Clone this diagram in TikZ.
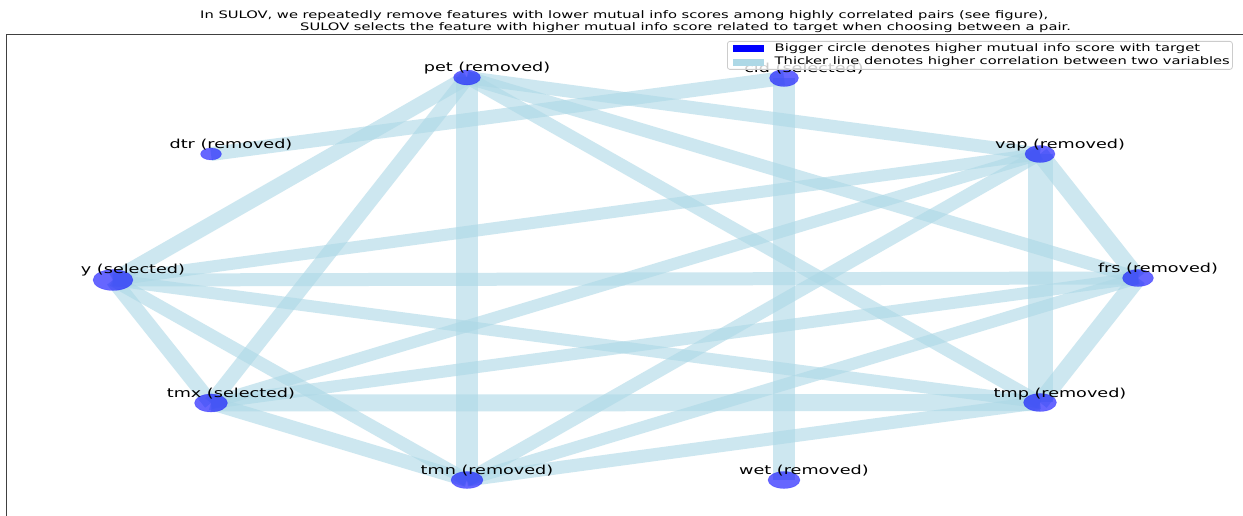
\documentclass[tikz,border=0pt]{standalone}
\usepackage{fontspec}
\newfontfamily\plotfont[FakeStretch=1.42]{DejaVu Sans}
\usetikzlibrary{shapes.geometric}
\definecolor{edgeblue}{RGB}{173,216,230}
\definecolor{nodeblue}{RGB}{0,0,255}
\definecolor{legendgray}{RGB}{204,204,204}
\pgfdeclarelayer{edgelayer}
\pgfsetlayers{edgelayer,main}
\begin{document}
\begin{tikzpicture}[x=1bp,y=-1bp,
  edge/.style={draw=edgeblue, draw opacity=0.6, line width=#1, line cap=butt},
  feat/.style={ellipse, fill=nodeblue, fill opacity=0.6, draw=nodeblue, draw opacity=0.25, line width=0.6bp, inner sep=0pt},
  lbl/.style={anchor=base, inner sep=0pt, font=\plotfont\fontsize{12.4bp}{14bp}\selectfont, text=black},
  ttl/.style={anchor=base west, inner sep=0pt, font=\plotfont\fontsize{10.35bp}{12bp}\selectfont, text=black},
  legtxt/.style={anchor=base west, inner sep=0pt, font=\plotfont\fontsize{10.35bp}{12bp}\selectfont, text=black}]
\path[use as bounding box] (0,0) rectangle (1243,516);

% feature nodes
\node[feat, minimum width=27bp, minimum height=15bp] (pet) at (467,77.5) {};
\node[feat, minimum width=29bp, minimum height=17bp] (cld) at (784,78) {};
\node[feat, minimum width=21bp, minimum height=12bp] (dtr) at (211,154) {};
\node[feat, minimum width=30bp, minimum height=17bp] (vap) at (1040,154) {};
\node[feat, minimum width=40bp, minimum height=21bp] (y) at (113,280) {};
\node[feat, minimum width=31bp, minimum height=17bp] (frs) at (1138,278) {};
\node[feat, minimum width=33bp, minimum height=18bp] (tmx) at (211,403) {};
\node[feat, minimum width=33bp, minimum height=18bp] (tmp) at (1040,402.5) {};
\node[feat, minimum width=32bp, minimum height=17bp] (tmn) at (467,480) {};
\node[feat, minimum width=32bp, minimum height=17bp] (wet) at (784,480) {};

% edges
\begin{pgfonlayer}{edgelayer}
\fill[white] (0,0) rectangle (1243,516);
\draw[edge=14bp] (dtr.center) -- (cld.center);
\draw[edge=22bp] (cld.center) -- (wet.center);
\draw[edge=15bp] (pet.center) -- (y.center);
\draw[edge=15bp] (pet.center) -- (tmx.center);
\draw[edge=22bp] (pet.center) -- (tmn.center);
\draw[edge=13bp] (pet.center) -- (vap.center);
\draw[edge=13bp] (pet.center) -- (frs.center);
\draw[edge=13bp] (pet.center) -- (tmp.center);
\draw[edge=15bp] (y.center) -- (tmx.center);
\draw[edge=13bp] (y.center) -- (tmn.center);
\draw[edge=12bp] (y.center) -- (vap.center);
\draw[edge=13bp] (y.center) -- (frs.center);
\draw[edge=12bp] (y.center) -- (tmp.center);
\draw[edge=14bp] (tmx.center) -- (tmn.center);
\draw[edge=12bp] (tmx.center) -- (vap.center);
\draw[edge=12bp] (tmx.center) -- (frs.center);
\draw[edge=17bp] (tmx.center) -- (tmp.center);
\draw[edge=13bp] (tmn.center) -- (vap.center);
\draw[edge=12bp] (tmn.center) -- (frs.center);
\draw[edge=13bp] (tmn.center) -- (tmp.center);
\draw[edge=17bp] (vap.center) -- (frs.center);
\draw[edge=25bp] (vap.center) -- (tmp.center);
\draw[edge=17bp] (frs.center) -- (tmp.center);
\end{pgfonlayer}

% labels
\node[lbl] (lpet) at (487,72) {pet (removed)};
\node[lbl] (lcld) at (804,72.5) {cld (selected)};
\node[lbl] (ldtr) at (231,148.5) {dtr (removed)};
\node[lbl] (lvap) at (1060,148.5) {vap (removed)};
\node[lbl] (ly) at (133,273.5) {y (selected)};
\node[lbl] (lfrs) at (1158,272.5) {frs (removed)};
\node[lbl] (ltmx) at (231,397.5) {tmx (selected)};
\node[lbl] (ltmp) at (1060,397) {tmp (removed)};
\node[lbl] (ltmn) at (487,474.5) {tmn (removed)};
\node[lbl] (lwet) at (804,474.5) {wet (removed)};

% axes frame
\draw[black!75, line width=1bp] (6,516) -- (6,35) -- (1243,35);

% title
\node[ttl] (t1) at (200,19) {In SULOV, we repeatedly remove features with lower mutual info scores among highly correlated pairs (see figure),};
\node[ttl] (t2) at (300,30.5) {SULOV selects the feature with higher mutual info score related to target when choosing between a pair.};

% legend
\node[draw=legendgray, fill=white, fill opacity=0.8, draw opacity=1, rounded corners=2.5bp, line width=0.8bp,
      minimum width=505bp, minimum height=28bp, inner sep=0pt, anchor=north west] (leg) at (727,41) {};
\node[fill=nodeblue, minimum width=31bp, minimum height=7bp, inner sep=0pt, anchor=north west] (p1) at (733,44.5) {};
\node[fill=edgeblue, minimum width=31bp, minimum height=7bp, inner sep=0pt, anchor=north west] (p2) at (733,58.5) {};
\node[legtxt] (lt1) at (774.5,51.5) {Bigger circle denotes higher mutual info score with target};
\node[legtxt] (lt2) at (774.5,65) {Thicker line denotes higher correlation between two variables};
\end{tikzpicture}
\end{document}
